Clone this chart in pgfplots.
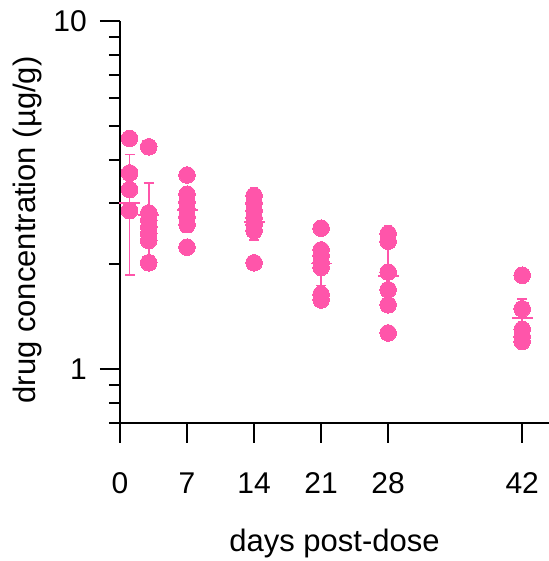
\documentclass[border=0pt]{standalone}
\usepackage{pgfplots}
\pgfplotsset{compat=1.18}
\usepackage{fontspec}
\setmainfont{Liberation Sans}
\definecolor{dosepink}{RGB}{255,85,170}

% individual samples
\pgfplotstableread{
x y
1 4.60
1 3.66
1 3.28
1 2.85
3 4.35
3 2.81
3 2.68
3 2.56
3 2.45
3 2.34
3 2.02
7 3.61
7 3.18
7 3.02
7 2.88
7 2.74
7 2.60
7 2.24
14 3.15
14 3.00
14 2.85
14 2.72
14 2.60
14 2.50
14 2.02
21 2.54
21 2.20
21 2.12
21 2.02
21 1.96
21 1.64
21 1.58
28 2.45
28 2.33
28 1.90
28 1.69
28 1.53
28 1.27
42 1.86
42 1.49
42 1.30
42 1.24
42 1.20
}\samples

% mean and standard deviation per day
\pgfplotstableread{
x y e
1 3.00 1.14
3 2.77 0.65
7 2.87 0.40
14 2.65 0.30
21 2.01 0.27
28 1.85 0.38
42 1.40 0.19
}\summary

\begin{document}
\begin{tikzpicture}
\path[use as bounding box] (-120bp,-138bp) rectangle (429bp,423bp);
\begin{axis}[
  at={(0,0)}, anchor=south west,
  scale only axis, width=429bp, height=402bp,
  xmin=0, xmax=44.8, ymin=0.7, ymax=10, ymode=log,
  axis x line=bottom, axis y line=left,
  axis line style={-, line width=2bp, black},
  every tick/.style={black, line width=2bp},
  tick align=outside,
  major tick length=20bp, minor tick length=11bp,
  xtick={0,7,14,21,28,42},
  ytick={1,10}, yticklabels={1,10},
  minor ytick={0.7,0.8,0.9,2,3,4,5,6,7,8,9},
  font=\fontsize{30bp}{36bp}\selectfont,
  /pgf/number format/assume math mode=true,
  xticklabel style={anchor=base, inner sep=0pt, yshift=-51bp},
  yticklabel style={anchor=east, inner sep=0pt, xshift=-13bp},
  xlabel={days post-dose},
  xlabel style={at={(axis description cs:0.5,0)}, anchor=base, yshift=-128bp,
    font=\fontsize{31bp}{36bp}\selectfont},
  ylabel={drug concentration (µg/g)},
  % the label is turned a quarter turn, so yshift moves it left
  ylabel style={at={(axis description cs:0,0.5)}, anchor=center,
    xshift=-8bp, yshift=93bp, font=\fontsize{31bp}{36bp}\selectfont},
  clip=false,
]
\addplot[dosepink, only marks, mark=-, mark size=10.5bp,
  mark options={line width=1.6bp},
  error bars/.cd, y dir=both, y explicit,
  error bar style={line width=1.6bp, dosepink},
  error mark options={rotate=90, mark size=5bp, line width=1.6bp, dosepink}]
  table[x=x, y=y, y error=e] {\summary};
\addplot[dosepink, only marks, mark=*, mark size=8.3bp,
  mark options={draw=dosepink, fill=dosepink, line width=0pt}]
  table[x=x, y=y] {\samples};
\end{axis}
\end{tikzpicture}
\end{document}
